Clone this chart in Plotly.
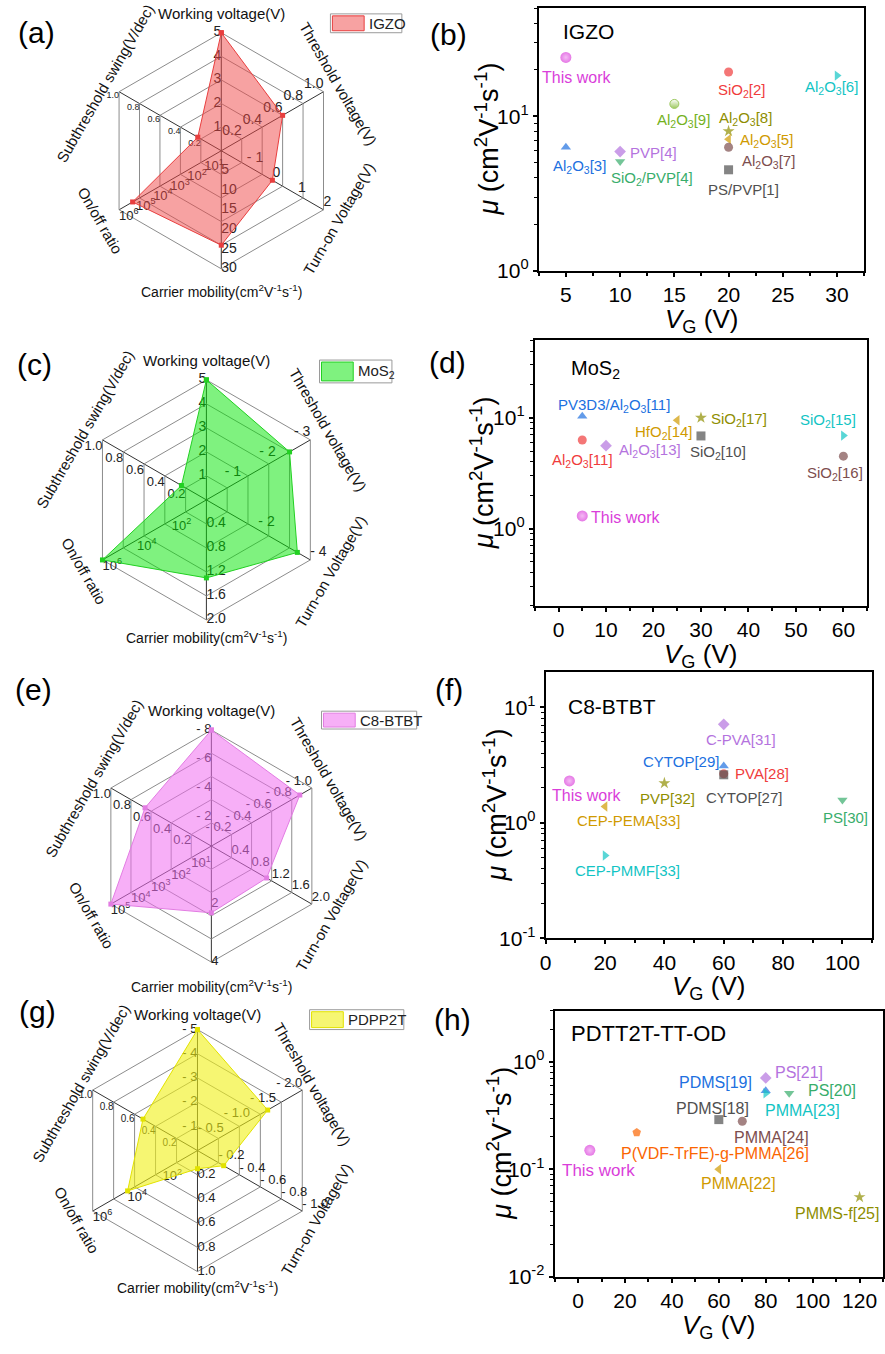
import numpy as np
import plotly.graph_objects as go

W, H = 885, 1354
FONT = "Liberation Sans, Arial, Helvetica, sans-serif"

# ---------------------------------------------------------------
# Radar charts: six device parameters per semiconductor
# ---------------------------------------------------------------
RADAR_AXES = [
    "Working voltage(V)",
    "Threshold voltage(V)",
    "Turn-on Voltage(V)",
    "Carrier mobility(cm<sup>2</sup>V<sup>-1</sup>s<sup>-1</sup>)",
    "On/off ratio",
    "Subthreshold swing(V/dec)",
]
RADAR_ANGLE = [0, 60, 120, 180, 240, 300]  # clockwise from the top
LOG_AXIS = 4  # on/off ratio axis runs in decades

# IGZO
igzo_radar = [5, 0.6, 0.0, 24, 1.6e5, 0.23]
igzo_lo = [0, 0, -2, 0, 0, 0]
igzo_hi = [5, 1, 2, 30, 6, 1]
igzo_ticks = [[1, 2, 3, 4, 5], [0.2, 0.4, 0.6, 0.8, 1.0], [-1, 0, 1, 2],
              [5, 10, 15, 20, 25, 30], [1e1, 1e2, 1e3, 1e4, 1e5, 1e6],
              [0.2, 0.4, 0.6, 0.8, 1.0]]

# MoS2
mos2_radar = [5, -2.4, -3.5, 1.3, 1e6, 0.24]
mos2_lo = [0, 0, 0, 0, 0, 0]
mos2_hi = [5, -3, -4, 2, 6, 1]
mos2_ticks = [[1, 2, 3, 4, 5], [-1, -2, -3], [-2, -4],
              [0.4, 0.8, 1.2, 1.6, 2.0], [1e2, 1e4, 1e6],
              [0.2, 0.4, 0.6, 0.8, 1.0]]

# C8-BTBT
c8_radar = [-8, -0.88, 1.1, 2.3, 1e5, 0.66]
c8_lo = [0, 0, 0, 0, 0, 0]
c8_hi = [-8, -1, 2, 4, 5, 1]
c8_ticks = [[-2, -4, -6, -8], [-0.2, -0.4, -0.6, -0.8, -1.0],
            [0.4, 0.8, 1.2, 1.6, 2.0], [2, 4],
            [1e1, 1e2, 1e3, 1e4, 1e5], [0.2, 0.4, 0.6, 0.8, 1.0]]

# PDPP2T
pdpp_radar = [-5, -1.34, -0.25, 0.15, 1e4, 0.52]
pdpp_lo = [0, 0, 0, 0, 0, 0]
pdpp_hi = [-5, -2, -1, 1, 6, 1]
pdpp_ticks = [[-1, -2, -3, -4, -5], [-0.5, -1.0, -1.5, -2.0],
              [-0.2, -0.4, -0.6, -0.8, -1.0], [0.2, 0.4, 0.6, 0.8, 1.0],
              [1e2, 1e4, 1e6], [0.2, 0.4, 0.6, 0.8, 1.0]]

# ---------------------------------------------------------------
# Mobility vs gate voltage comparisons
# ---------------------------------------------------------------
igzo_refs = ["This work", "SiO<sub>2</sub>[2]", "Al<sub>2</sub>O<sub>3</sub>[6]",
             "Al<sub>2</sub>O<sub>3</sub>[9]", "Al<sub>2</sub>O<sub>3</sub>[8]",
             "Al<sub>2</sub>O<sub>3</sub>[5]", "Al<sub>2</sub>O<sub>3</sub>[7]",
             "PS/PVP[1]", "Al<sub>2</sub>O<sub>3</sub>[3]", "PVP[4]",
             "SiO<sub>2</sub>/PVP[4]"]
igzo_vg = [5, 20, 30, 15, 20, 20, 20, 20, 5, 10, 10]
igzo_mu = [24, 19.3, 18.3, 12.0, 8.0, 7.1, 6.3, 4.5, 6.3, 5.9, 5.1]

mos2_refs = ["This work", "PV3D3/Al<sub>2</sub>O<sub>3</sub>[11]",
             "Al<sub>2</sub>O<sub>3</sub>[11]", "Al<sub>2</sub>O<sub>3</sub>[13]",
             "HfO<sub>2</sub>[14]", "SiO<sub>2</sub>[17]", "SiO<sub>2</sub>[10]",
             "SiO<sub>2</sub>[15]", "SiO<sub>2</sub>[16]"]
mos2_vg = [5, 5, 5, 10, 25, 30, 30, 60, 60]
mos2_mu = [1.3, 10.3, 6.3, 5.6, 9.5, 10.0, 6.85, 6.9, 4.5]

c8_refs = ["This work", "C-PVA[31]", "CYTOP[29]", "PVA[28]", "CYTOP[27]",
           "PVP[32]", "CEP-PEMA[33]", "CEP-PMMF[33]", "PS[30]"]
c8_vg = [8, 60, 60, 60, 60, 40, 20, 20, 100]
c8_mu = [2.3, 7.1, 3.1, 2.65, 2.6, 2.2, 1.38, 0.52, 1.57]

pdtt_refs = ["This work", "P(VDF-TrFE)-g-PMMA[26]", "PDMS[18]", "PMMA[24]",
             "PDMS[19]", "PMMA[23]", "PS[21]", "PS[20]", "PMMA[22]", "PMMS-f[25]"]
pdtt_vg = [5, 25, 60, 70, 80, 80, 80, 90, 60, 120]
pdtt_mu = [0.15, 0.22, 0.29, 0.28, 0.54, 0.51, 0.71, 0.51, 0.10, 0.055]

# ---------------------------------------------------------------
# Styles
# ---------------------------------------------------------------
MAG, RED, BLUE, GREEN = "#DA3EDA", "#F03C3C", "#2070E0", "#38AD6B"
PURPLE, GOLD, CYAN, BROWN = "#B473DE", "#D09A00", "#12C4C4", "#7D4E4E"
OLIVE, GRAY, ORANGE, LGREEN = "#8E8E00", "#505050", "#FB6501", "#74B21E"
SPHERE_HIGHLIGHT = "#F09CF0"

igzo_sym = ["circle", "circle", "triangle-right", "circle", "star", "triangle-left",
            "circle", "square", "triangle-up", "diamond", "triangle-down"]
igzo_col = [MAG, RED, CYAN, LGREEN, OLIVE, GOLD, BROWN, GRAY, BLUE, PURPLE, GREEN]
igzo_face = ["sphere", "solid", "solid", "half", "solid", "solid", "solid", "solid",
             "solid", "solid", "solid"]
igzo_shift = [(11, -20), (13, -18), (-6, -12), (9, -17), (17, 13), (38, -1),
              (40, -14), (15, -20), (14, -19), (33, -1), (32, -17)]

mos2_sym = ["circle", "triangle-up", "circle", "diamond", "triangle-left", "star",
            "square", "triangle-right", "circle"]
mos2_col = [MAG, BLUE, RED, PURPLE, GOLD, OLIVE, GRAY, CYAN, BROWN]
mos2_face = ["sphere"] + ["solid"] * 8
mos2_shift = [(43, -2), (32, 11), (0, -21), (44, -5), (-13, -12), (38, -2),
              (17, -17), (-15, 15), (-8, -17)]

c8_sym = ["circle", "diamond", "triangle-up", "circle", "square", "star",
          "triangle-left", "triangle-right", "triangle-down"]
c8_col = [MAG, PURPLE, BLUE, RED, GRAY, OLIVE, GOLD, CYAN, GREEN]
c8_face = ["sphere"] + ["solid"] * 8
c8_shift = [(17, -15), (17, -15), (-43, 4), (38, 0), (20, -23), (3, -15),
            (23, -14), (22, -15), (3, -17)]

pdtt_sym = ["circle", "pentagon", "square", "circle", "triangle-up", "triangle-right",
            "diamond", "triangle-down", "triangle-left", "star"]
pdtt_col = [MAG, ORANGE, GRAY, BROWN, BLUE, CYAN, PURPLE, GREEN, GOLD, OLIVE]
pdtt_face = ["sphere"] + ["solid"] * 9
pdtt_shift = [(9, -20), (78, -21), (-6, 11), (29, -16), (-50, 8), (37, -17),
              (33, 5), (43, 3), (20, -14), (-23, -16)]

TICK_POS = ["middle left", "top left", "top right", "middle right",
            "bottom right", "bottom left"]
TITLE_ANGLE = [0, 60, -60, 0, 60, -60]
TITLE_SIZE = [15, 15, 15, 14, 15, 15]

fig = go.Figure()


def axis_frac(v, lo, hi, log):
    x = np.log10(v) if log else v
    return (x - lo) / (hi - lo)


def tick_label(v, ticks, log):
    if log:
        return f"10<sup>{int(round(np.log10(v)))}</sup>"
    dec = 0 if all(float(t).is_integer() for t in ticks) else 1
    s = f"{abs(v):.{dec}f}"
    return "- " + s if v < 0 else s


def add_radar(pid, center, radius, values, lo, hi, ticks, fill, line,
              tick_sizes, gap, legend_text, legend_box):
    cx, cy = center
    fig.update_layout(**{pid: dict(
        domain=dict(x=[(cx - radius) / W, (cx + radius) / W],
                    y=[1 - (cy + radius) / H, 1 - (cy - radius) / H]),
        bgcolor="rgba(0,0,0,0)",
        gridshape="linear",
        radialaxis=dict(range=[0, 1], tickvals=[0.2, 0.4, 0.6, 0.8, 1.0],
                        showticklabels=False, ticks="", showline=False,
                        gridcolor="#8c8c8c", gridwidth=1, layer="below traces"),
        angularaxis=dict(type="category", categoryorder="array",
                         categoryarray=RADAR_AXES, rotation=90,
                         direction="clockwise", showticklabels=False, ticks="",
                         gridcolor="#333333", gridwidth=1.2,
                         linecolor="#8c8c8c", linewidth=1, layer="below traces"),
    )})
    for i in range(6):
        log = i == LOG_AXIS
        rr = [axis_frac(t, lo[i], hi[i], log) for t in ticks[i]]
        fig.add_trace(go.Scatterpolar(
            subplot=pid, r=rr, theta=[RADAR_AXES[i]] * len(rr), mode="text",
            text=[tick_label(t, ticks[i], log) for t in ticks[i]],
            textposition=TICK_POS[i],
            textfont=dict(size=tick_sizes[i], color="#222222", family=FONT),
            cliponaxis=False, showlegend=False, hoverinfo="skip"))
    r = [axis_frac(v, lo[i], hi[i], i == LOG_AXIS) for i, v in enumerate(values)]
    fig.add_trace(go.Scatterpolar(
        subplot=pid, r=r + [r[0]], theta=RADAR_AXES + [RADAR_AXES[0]],
        mode="lines+markers", fill="toself", fillcolor=fill,
        line=dict(color=line, width=1), marker=dict(symbol="square", size=5, color=line),
        cliponaxis=False, showlegend=False, hoverinfo="skip", name=legend_text))
    for i, name in enumerate(RADAR_AXES):
        d = radius + gap[i]
        ang = np.deg2rad(RADAR_ANGLE[i])
        px, py = cx + d * np.sin(ang), cy - d * np.cos(ang)
        fig.add_annotation(xref="paper", yref="paper", x=px / W, y=1 - py / H,
                           text=name, textangle=TITLE_ANGLE[i], showarrow=False,
                           xanchor="center", yanchor="middle",
                           font=dict(size=TITLE_SIZE[i], color="#111111", family=FONT))
    # legend box
    x0, y0, x1, y1 = legend_box
    fig.add_shape(type="rect", xref="paper", yref="paper", x0=x0 / W, x1=x1 / W,
                  y0=1 - y1 / H, y1=1 - y0 / H, line=dict(color="#9a9a9a", width=1),
                  fillcolor="white", layer="above")
    fig.add_shape(type="rect", xref="paper", yref="paper", x0=(x0 + 2) / W, x1=(x0 + 34) / W,
                  y0=1 - (y1 - 2) / H, y1=1 - (y0 + 2) / H, line=dict(color=line, width=1),
                  fillcolor=fill, layer="above")
    fig.add_annotation(xref="paper", yref="paper", x=(x0 + 37) / W, y=1 - (y0 + y1) / 2 / H,
                       text=legend_text, showarrow=False, xanchor="left", yanchor="middle",
                       font=dict(size=15, color="#222222", family=FONT))


add_radar("polar", (217, 152), 119, igzo_radar, igzo_lo, igzo_hi, igzo_ticks,
          "rgba(240,70,70,0.5)", "#E83E3E", [14, 14, 14, 14, 13, 9],
          [19, 17, 18, 22, 22, 16], "IGZO", (327, 14, 399, 33))
add_radar("polar2", (202, 504), 121, mos2_radar, mos2_lo, mos2_hi, mos2_ticks,
          "rgba(0,230,0,0.5)", "#22D022", [14, 14, 14, 14, 13, 13],
          [20, 20, 24, 17, 22, 20], "MoS<sub>2</sub>", (316, 363, 389, 386))
add_radar("polar3", (207, 853), 117, c8_radar, c8_lo, c8_hi, c8_ticks,
          "rgba(240,110,240,0.55)", "#E27CE2", [13, 13, 13, 13, 13, 13],
          [20, 20, 22, 24, 22, 20], "C8-BTBT", (318, 717, 414, 735))
add_radar("polar4", (193, 1160), 122, pdpp_radar, pdpp_lo, pdpp_hi, pdpp_ticks,
          "rgba(240,240,20,0.6)", "#E2E200", [13, 13, 13, 13, 13, 10],
          [15, 12, 16, 16, 18, 14], "PDPP2T", (306, 1018, 401, 1038))


def add_scatter(k, vg, mu, refs, syms, cols, faces, shifts, box, xr, xt, xminor,
                yr, ytv, label, label_pos, label_size, text_size, ytitle_gap):
    x0, y0, x1, y1 = box
    xa, ya = ("x" if k == 1 else f"x{k}"), ("y" if k == 1 else f"y{k}")
    sizes = [11 if f == "sphere" else 9 for f in faces]
    face_col = ["white" if f == "half" else c for f, c in zip(faces, cols)]
    grad_type = ["radial" if f == "sphere" else "vertical" if f == "half" else "none"
                 for f in faces]
    grad_col = [SPHERE_HIGHLIGHT if f == "sphere" else c for f, c in zip(faces, cols)]
    fig.add_trace(go.Scatter(
        x=vg, y=mu, xaxis=xa, yaxis=ya, mode="markers", showlegend=False,
        marker=dict(symbol=syms, color=face_col, size=sizes,
                    gradient=dict(type=grad_type, color=grad_col),
                    line=dict(width=[1 if f == "half" else 0 for f in faces], color=cols)),
        hoverinfo="skip", cliponaxis=False))
    for xv, yv, ref, col, (dx, dy) in zip(vg, mu, refs, cols, shifts):
        fig.add_annotation(xref=xa, yref=ya, x=xv, y=np.log10(yv), text=ref,
                           showarrow=False, xshift=dx, yshift=dy,
                           font=dict(size=text_size + (1 if ref == "This work" else 0),
                                     color=col, family=FONT))
    minor_y = [m * 10.0 ** e for e in range(-3, 3) for m in range(2, 10)]
    axis_common = dict(showline=True, linewidth=2, linecolor="black", mirror=True,
                       showgrid=False, zeroline=False, ticks="outside", ticklen=4,
                       tickwidth=1.5, tickcolor="black",
                       tickfont=dict(size=21, color="black", family=FONT))
    fig.update_layout(**{
        ("xaxis" if k == 1 else f"xaxis{k}"): dict(
            domain=[x0 / W, x1 / W], anchor=ya, range=xr, tickvals=xt,
            minor=dict(ticks="outside", ticklen=3, tickwidth=1.5, dtick=xminor,
                       tick0=0, tickcolor="black"),
            **axis_common),
        ("yaxis" if k == 1 else f"yaxis{k}"): dict(
            domain=[1 - y1 / H, 1 - y0 / H], anchor=xa, type="log", range=yr,
            tickvals=ytv,
            ticktext=[f"10<sup>{int(round(np.log10(v)))}</sup>" for v in ytv],
            minor=dict(ticks="outside", ticklen=2.5, tickwidth=1.2,
                       tickvals=minor_y, tickcolor="black"),
            **axis_common),
    })
    # axis titles
    fig.add_annotation(xref="paper", yref="paper", x=(x0 + x1) / 2 / W,
                       y=1 - (y1 + 50) / H, text="<i>V</i><sub>G</sub> (V)",
                       showarrow=False, xanchor="center", yanchor="middle",
                       font=dict(size=26, color="black", family=FONT))
    fig.add_annotation(xref="paper", yref="paper", x=(x0 - ytitle_gap) / W,
                       y=1 - (y0 + y1) / 2 / H,
                       text="<i>μ</i> (cm<sup>2</sup>V<sup>-1</sup>s<sup>-1</sup>)",
                       textangle=-90, showarrow=False, xanchor="center", yanchor="middle",
                       font=dict(size=27, color="black", family=FONT))
    fig.add_annotation(xref="paper", yref="paper", x=label_pos[0] / W,
                       y=1 - label_pos[1] / H, text=label, showarrow=False,
                       xanchor="left", yanchor="middle",
                       font=dict(size=label_size, color="black", family=FONT))


add_scatter(1, igzo_vg, igzo_mu, igzo_refs, igzo_sym, igzo_col, igzo_face, igzo_shift,
            (537, 8, 865, 273), [2.5, 32.5], [5, 10, 15, 20, 25, 30], 2.5,
            [0, 1.7], [1, 10], "IGZO", (559, 32), 21, 15, 52)
add_scatter(2, mos2_vg, mos2_mu, mos2_refs, mos2_sym, mos2_col, mos2_face, mos2_shift,
            (533, 343, 868, 611), [-5, 65], [0, 10, 20, 30, 40, 50, 60], 5,
            [-0.7, 1.7], [1, 10], "MoS<sub>2</sub>", (567, 373), 20, 15, 53)
add_scatter(3, c8_vg, c8_mu, c8_refs, c8_sym, c8_col, c8_face, c8_shift,
            (544, 678, 873, 946), [0, 110], [0, 20, 40, 60, 80, 100], 10,
            [-1, 1.3], [0.1, 1, 10], "C8-BTBT", (564, 712), 21, 15, 51)
add_scatter(4, pdtt_vg, pdtt_mu, pdtt_refs, pdtt_sym, pdtt_col, pdtt_face, pdtt_shift,
            (553, 1019, 884, 1287), [-10, 130], [0, 20, 40, 60, 80, 100, 120], 10,
            [-2, np.log10(3)], [0.01, 0.1, 1], "PDTT2T-TT-OD", (567, 1042), 22, 16, 56)

# panel letters
for txt, (px, py) in zip(["(a)", "(b)", "(c)", "(d)", "(e)", "(f)", "(g)", "(h)"],
                         [(31, 33), (446, 35), (29, 367), (445, 365),
                          (28, 695), (447, 695), (32, 1020), (450, 1028)]):
    fig.add_annotation(xref="paper", yref="paper", x=px / W, y=1 - py / H, text=txt,
                       showarrow=False, xanchor="center", yanchor="middle",
                       font=dict(size=30, color="black", family=FONT))

fig.update_layout(width=W, height=H, margin=dict(l=0, r=0, t=0, b=0),
                  paper_bgcolor="white", plot_bgcolor="white",
                  font=dict(family=FONT, color="black"), showlegend=False)

fig.write_html("out.html")
